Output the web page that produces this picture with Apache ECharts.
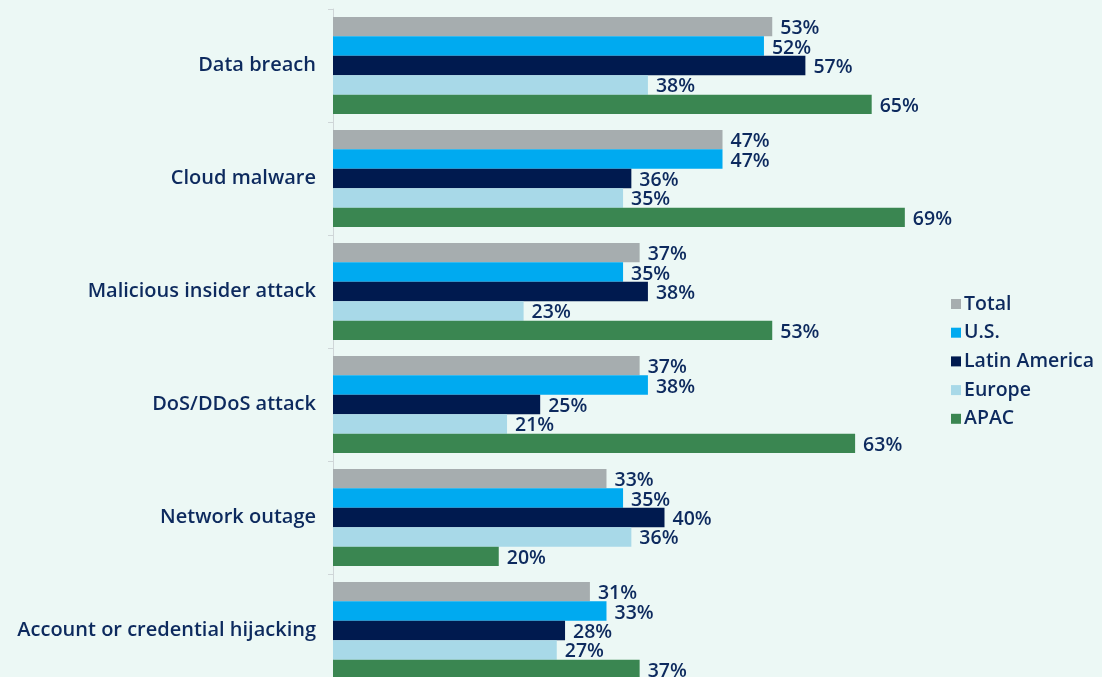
<!DOCTYPE html>
<html>
<head>
<meta charset="utf-8">
<script src="https://cdn.jsdelivr.net/npm/echarts@6/dist/echarts.min.js"></script>
<style>
  html, body { margin: 0; padding: 0; background: #ecf8f5; overflow: hidden; }
  #chart { width: 1102px; height: 687px; }
</style>
</head>
<body>
<div id="chart"></div>
<script>
const categories = ['Data breach', 'Cloud malware', 'Malicious insider attack', 'DoS/DDoS attack', 'Network outage', 'Account or credential hijacking'];
const seriesNames = ['Total', 'U.S.', 'Latin America', 'Europe', 'APAC'];
const total = [53, 47, 37, 37, 33, 31];
const us = [52, 47, 35, 38, 35, 33];
const latinAmerica = [57, 36, 38, 25, 40, 28];
const europe = [38, 35, 23, 21, 36, 27];
const apac = [65, 69, 53, 63, 20, 37];

const colors = ['#a6adaf', '#00aaf0', '#001a4f', '#a8d9e8', '#3a8651'];
const textColor = '#0d2a5e';
const font = '"Open Sans", sans-serif';

const chart = echarts.init(document.getElementById('chart'));

const makeSeries = (name, data, i) => ({
  name,
  type: 'bar',
  data,
  barGap: '0%',
  barCategoryGap: '14%',
  itemStyle: { color: colors[i] },
  label: {
    show: true,
    position: 'right',
    distance: 8,
    offset: [0, 2],
    formatter: '{c}%',
    color: textColor,
    fontFamily: font,
    fontSize: 19.5,
    fontWeight: 600
  }
});

chart.setOption({
  backgroundColor: '#ecf8f5',
  animation: false,
  grid: { left: 333, top: 9, right: 106, bottom: 0 },
  xAxis: { type: 'value', min: 0, max: 80, show: false },
  yAxis: {
    type: 'category',
    data: categories,
    inverse: true,
    axisLine: { lineStyle: { color: '#cfd6d8', width: 1 } },
    axisTick: { show: true, length: 5, lineStyle: { color: '#cfd6d8' } },
    axisLabel: {
      margin: 17,
      padding: [4, 0, 0, 0],
      color: textColor,
      fontFamily: font,
      fontSize: 20,
      fontWeight: 600
    }
  },
  legend: {
    orient: 'vertical',
    left: 946,
    top: 289,
    icon: 'rect',
    itemWidth: 10,
    itemHeight: 10,
    itemGap: 8.7,
    textStyle: { color: textColor, fontFamily: font, fontSize: 19.5, fontWeight: 600, lineHeight: 20, padding: [0, 0, 0, -2] },
    data: seriesNames
  },
  series: [
    makeSeries(seriesNames[0], total, 0),
    makeSeries(seriesNames[1], us, 1),
    makeSeries(seriesNames[2], latinAmerica, 2),
    makeSeries(seriesNames[3], europe, 3),
    makeSeries(seriesNames[4], apac, 4)
  ]
});
</script>
</body>
</html>
